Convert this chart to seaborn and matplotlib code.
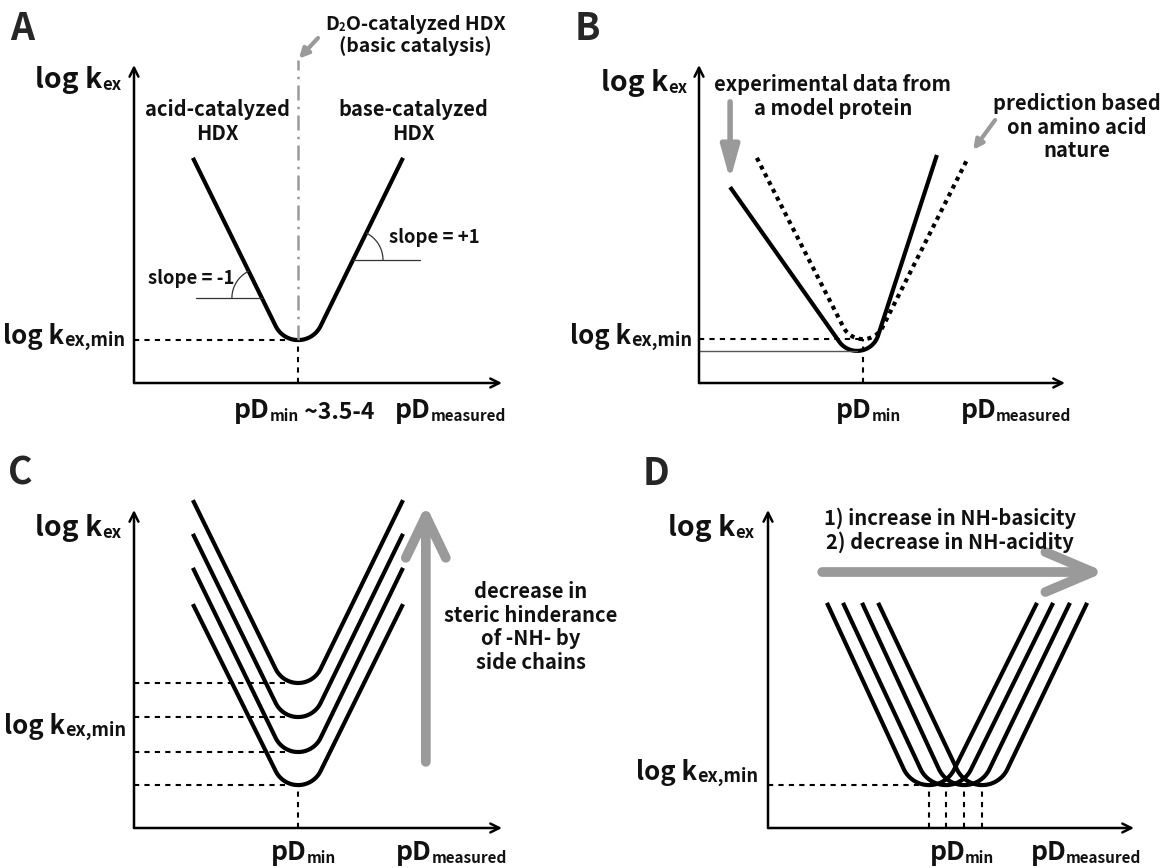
import numpy as np
import matplotlib
matplotlib.use('Agg')
import matplotlib.pyplot as plt
import seaborn as sns
from matplotlib.offsetbox import TextArea, HPacker, VPacker, AnnotationBbox

# ---- panel A: single pH-rate profile
a_pd_min = 4.46
a_logk_min = 1.35
a_pd_ends = [1.60, 7.31]
a_logk_ends = [7.08, 7.08]
a_slope_logk = [2.67, 3.87]     # where the "slope" marks sit

# ---- panel B: experimental vs predicted
b_exp_pd_min = 4.32
b_exp_logk_min = 1.01
b_exp_pd_ends = [0.85, 6.50]
b_exp_logk_ends = [6.16, 7.17]
b_pred_pd_min = 4.48
b_pred_logk_min = 1.38
b_pred_pd_ends = [1.58, 7.35]
b_pred_logk_ends = [7.08, 7.08]

# ---- panel C: steric hinderance shifts log k up
c_pd_min = 4.46
c_logk_min = [1.35, 2.39, 3.49, 4.56]
c_pd_ends = [1.60, 7.31]
c_logk_top = [7.04, 8.18, 9.25, 10.31]

# ---- panel D: acidity/basicity shifts pD_min
d_pd_min = [4.40, 4.86, 5.36, 5.85]
d_logk_min = 1.35
d_pd_left = [1.61, 2.05, 2.57, 3.01]
d_pd_right = [7.35, 7.79, 8.25, 8.72]
d_logk_top = 7.08

FONT = ['Noto Sans CJK SC', 'DejaVu Sans']
LOGK, LOGKMIN, PD, TXT = 20.5, 18.5, 19, 14.5
SUB, SUBMIN, SUBPD = 12, 13, 11
GRAY = '#9a9a9a'
W, H = 1167, 868
AX_H = 318

sns.set_theme(style='white')
plt.rcParams['font.family'] = FONT


def v_curve(pd0, k0, pl, kl, pr, kr, sx, sy, R=25, n=80):
    """two straight flanks joined by a round bottom (fillet), built in pixel space"""
    c = np.array([pd0 * sx, k0 * sy + R])
    angs, ends = [], []
    for p, k, sgn in [(pl, kl, 1), (pr, kr, -1)]:
        P = np.array([p * sx, k * sy])
        d = P - c
        base = np.arctan2(d[1], d[0])
        angs.append((base + sgn * np.arccos(R / np.hypot(*d))) % (2 * np.pi))
        ends.append(P)
    t = np.linspace(angs[0], angs[1], n)
    arc = np.c_[c[0] + R * np.cos(t), c[1] + R * np.sin(t)]
    pts = np.vstack([ends[0], arc, ends[1]])
    return pts[:, 0] / sx, pts[:, 1] / sy


def draw_v(ax, x, y, **kw):
    kw.setdefault('color', 'black')
    kw.setdefault('lw', 3)
    sns.lineplot(x=x, y=y, ax=ax, sort=False, estimator=None, **kw)
    ax.lines[-1].set_clip_on(False)
    ax.lines[-1].set_solid_capstyle('butt')


def frame(ax):
    ax.set_xlim(0, 10)
    ax.set_ylim(0, 10)
    ax.set_axis_off()
    for tip in [(1, 0), (0, 1)]:
        ax.annotate('', xy=tip, xytext=(0, 0), xycoords='axes fraction',
                    arrowprops=dict(arrowstyle='->', lw=1.8, color='black',
                                    shrinkA=0, shrinkB=0, mutation_scale=16))


def dotted(ax, xs, ys):
    ax.plot(xs, ys, color='black', lw=1.5, linestyle=(0, (2.5, 2.5)), clip_on=False)


def rich(ax, xy, lines, align=(0.5, 0.5), sep=2):
    rows = []
    for parts in lines:
        areas = [TextArea(t, textprops=dict(fontsize=s, fontweight='bold', family=FONT,
                                            color='#111111'))
                 for t, s in parts]
        rows.append(HPacker(children=areas, align='bottom', pad=0, sep=0))
    box = VPacker(children=rows, align='center', pad=0, sep=sep)
    ab = AnnotationBbox(box, xy, xycoords='data', box_alignment=align,
                        frameon=False, pad=0, annotation_clip=False)
    ax.add_artist(ab)


def ylabels(ax, top_xy, min_xy):
    rich(ax, top_xy, [[('log k', LOGK), ('ex', SUB)]], align=(1, 0.5))
    rich(ax, min_xy, [[('log k', LOGKMIN), ('ex,min', SUBMIN)]], align=(1, 0.5))


def gray_arrow(ax, start, end, style='-|>', lw=4, ms=20):
    ax.annotate('', xy=end, xytext=start, xycoords='data',
                arrowprops=dict(arrowstyle=style, lw=lw, color=GRAY,
                                shrinkA=0, shrinkB=0, mutation_scale=ms),
                annotation_clip=False)


def add_panel(l, b, w):
    ax = fig.add_axes([l / W, 1 - b / H, w / W, AX_H / H])
    frame(ax)
    return ax, w / 10, AX_H / 10


fig = plt.figure(figsize=(W / 100, H / 100), dpi=100)

# ================= A
axA, sx, sy = add_panel(134, 383, 368)
x, y = v_curve(a_pd_min, a_logk_min, a_pd_ends[0], a_logk_ends[0],
               a_pd_ends[1], a_logk_ends[1], sx, sy)
draw_v(axA, x, y)
axA.plot([a_pd_min, a_pd_min], [a_logk_min, 10.16], color=GRAY, lw=1.8,
         linestyle=(0, (6, 2.5, 1, 2.5)), clip_on=False)
dotted(axA, [0, a_pd_min], [a_logk_min, a_logk_min])
dotted(axA, [a_pd_min, a_pd_min], [0, a_logk_min])

left = x < a_pd_min
hit_l = np.interp(a_slope_logk[0], y[left][::-1], x[left][::-1])
hit_r = np.interp(a_slope_logk[1], y[~left], x[~left])
ang_l = np.degrees(np.arctan2((y[0] - a_slope_logk[0]) * sy, (x[0] - hit_l) * sx))
ang_r = np.degrees(np.arctan2((y[-1] - a_slope_logk[1]) * sy, (x[-1] - hit_r) * sx))
axA.plot([hit_l - 1.8, hit_l], [a_slope_logk[0]] * 2, color='#333', lw=0.9)
axA.plot([hit_r, hit_r + 1.83], [a_slope_logk[1]] * 2, color='#333', lw=0.9)
R = 30
t = np.radians(np.linspace(ang_l, 180, 40))
axA.plot(hit_l + R * np.cos(t) / sx, a_slope_logk[0] + R * np.sin(t) / sy, color='#333', lw=0.9)
t = np.radians(np.linspace(0, ang_r, 40))
axA.plot(hit_r + R * np.cos(t) / sx, a_slope_logk[1] + R * np.sin(t) / sy, color='#333', lw=0.9)

ylabels(axA, (-0.33, 9.53), (-0.24, 1.45))
rich(axA, (2.26, 8.22), [[('acid-catalyzed', TXT)], [('HDX', TXT)]])
rich(axA, (7.58, 8.22), [[('base-catalyzed', TXT)], [('HDX', TXT)]])
rich(axA, (1.56, 3.30), [[('slope = -1', 13.3)]])
rich(axA, (8.15, 4.59), [[('slope = +1', 13.3)]])
rich(axA, (7.64, 10.93), [[('D', 14), ('2', 8), ('O-catalyzed HDX', 14)],
                          [('(basic catalysis)', 14)]], sep=1)
gray_arrow(axA, (5.0, 10.85), (4.48, 10.2), lw=3, ms=14)
rich(axA, (4.62, -0.85), [[('pD', PD), ('min', SUBPD), (' ~3.5-4', 16.5)]])
rich(axA, (8.61, -0.85), [[('pD', PD), ('measured', SUBPD)]])

# ================= B
axB, sx, sy = add_panel(699, 383, 366)
x, y = v_curve(b_pred_pd_min, b_pred_logk_min, b_pred_pd_ends[0], b_pred_logk_ends[0],
               b_pred_pd_ends[1], b_pred_logk_ends[1], sx, sy, R=22)
draw_v(axB, x, y, lw=3, linestyle=(0, (1, 1.1)))
x, y = v_curve(b_exp_pd_min, b_exp_logk_min, b_exp_pd_ends[0], b_exp_logk_ends[0],
               b_exp_pd_ends[1], b_exp_logk_ends[1], sx, sy, R=22)
draw_v(axB, x, y)
axB.plot([0, b_exp_pd_min], [b_exp_logk_min] * 2, color='#555', lw=1)
dotted(axB, [0, b_pred_pd_min], [b_pred_logk_min] * 2)
dotted(axB, [b_pred_pd_min, b_pred_pd_min], [0, b_pred_logk_min])
gray_arrow(axB, (0.85, 8.84), (0.85, 6.38), style='-|>, head_length=0.9, head_width=0.25',
           lw=4, ms=22)
gray_arrow(axB, (8.09, 8.27), (7.49, 7.33), lw=3, ms=14)
ylabels(axB, (-0.33, 9.43), (-0.19, 1.45))
rich(axB, (3.66, 9.01), [[('experimental data from', TXT)], [('a model protein', TXT)]])
rich(axB, (10.33, 8.05), [[('prediction based', TXT)], [('on amino acid', TXT)],
                          [('nature', TXT)]])
rich(axB, (4.62, -0.85), [[('pD', PD), ('min', SUBPD)]])
rich(axB, (8.66, -0.85), [[('pD', PD), ('measured', SUBPD)]])

# ================= C
axC, sx, sy = add_panel(134, 828, 368)
for k0, kt in zip(c_logk_min, c_logk_top):
    x, y = v_curve(c_pd_min, k0, c_pd_ends[0], kt, c_pd_ends[1], kt, sx, sy)
    draw_v(axC, x, y)
    dotted(axC, [0, c_pd_min], [k0, k0])
dotted(axC, [c_pd_min, c_pd_min], [0, min(c_logk_min)])
gray_arrow(axC, (7.93, 2.08), (7.93, 10.16), style='->, head_length=0.75, head_width=0.36',
           lw=7, ms=40)
ylabels(axC, (-0.33, 9.43), (-0.22, 3.18))
rich(axC, (10.79, 6.32), [[('decrease in', TXT)], [('steric hinderance', TXT)],
                          [('of -NH- by', TXT)], [('side chains', TXT)]])
rich(axC, (4.6, -0.76), [[('pD', PD), ('min', SUBPD)]])
rich(axC, (8.63, -0.76), [[('pD', PD), ('measured', SUBPD)]])

# ================= D
axD, sx, sy = add_panel(768, 828, 366)
for p0, pl, pr in zip(d_pd_min, d_pd_left, d_pd_right):
    x, y = v_curve(p0, d_logk_min, pl, d_logk_top, pr, d_logk_top, sx, sy, R=28)
    draw_v(axD, x, y)
    dotted(axD, [p0, p0], [0, d_logk_min])
dotted(axD, [0, min(d_pd_min)], [d_logk_min] * 2)
gray_arrow(axD, (1.48, 8.05), (9.21, 8.05), style='->, head_length=0.85, head_width=0.36',
           lw=7, ms=40)
ylabels(axD, (-0.36, 9.43), (-0.27, 1.73))
rich(axD, (4.97, 9.37), [[('1) increase in NH-basicity', TXT)],
                         [('2) decrease in NH-acidity', TXT)]])
rich(axD, (5.3, -0.76), [[('pD', PD), ('min', SUBPD)]])
rich(axD, (8.69, -0.76), [[('pD', PD), ('measured', SUBPD)]])

# panel letters
for lbl, px, py in [('A', 10, 28), ('B', 575, 28), ('C', 8, 473), ('D', 643, 473)]:
    fig.text(px / W, 1 - py / H, lbl, fontsize=27, fontweight='bold', va='center', ha='left')

fig.savefig('out.png', dpi=100)
